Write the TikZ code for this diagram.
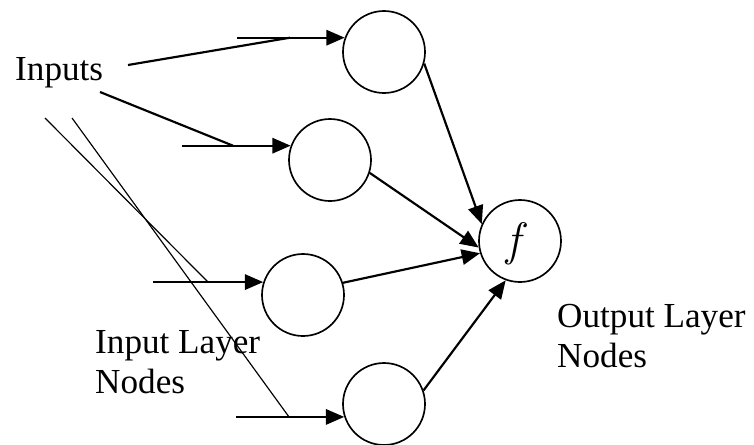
\documentclass[tikz,border=0pt]{standalone}
\usepackage{fontspec}
\setmainfont{Liberation Serif}
\newfontfamily\lmfont{Latin Modern Roman}
\usetikzlibrary{arrows.meta}

\begin{document}
\begin{tikzpicture}[x=0.03cm, y=-0.03cm,
    unit/.style={circle, draw, line width=0.05cm, minimum size=2.46cm, inner sep=0pt},
    feed/.style={line width=0.065cm, -{Triangle[length=0.55cm, width=0.46cm]}},
    wire/.style={line width=0.065cm},
    fine/.style={line width=0.035cm},
    every node/.style={font=\fontsize{30}{34}\selectfont}]
  \useasboundingbox (0,0) rectangle (754,444);

  % input layer and output node
  \node [unit] (h1)  at (384,52)  {};
  \node [unit] (h2)  at (330,160) {};
  \node [unit] (h3)  at (303,295) {};
  \node [unit] (h4)  at (384,404) {};
  \node [unit] (out) at (520,241) {};
  \node (fn) at (514,244) {\lmfont\fontsize{40}{40}\selectfont\itshape f};

  % labels (base = last line)
  \node [anchor=base west, inner sep=0pt] (inputs) at (15,80) {Inputs};
  \node [anchor=base west, inner sep=0pt, align=left] (inlayer)  at (95,393)  {Input Layer\\Nodes};
  \node [anchor=base west, inner sep=0pt, align=left] (outlayer) at (557,367) {Output Layer\\Nodes};

  \coordinate (a1) at (237,0);
  \coordinate (a2) at (182,0);
  \coordinate (a3) at (153,0);
  \coordinate (a4) at (236,0);

  \draw [feed] (a1 |- h1.160) -- (h1.160);
  \draw [feed] (a2 |- h2.160) -- (h2.160);
  \draw [feed] (a3 |- h3.162) -- (h3.162);
  \draw [feed] (a4 |- h4.198) -- (h4.198);

  \coordinate (i1) at (128,65);
  \coordinate (i2) at (100,92);
  \coordinate (j1) at (290,0);
  \coordinate (j2) at (233,0);

  \draw [wire] (i1) -- (j1 |- h1.160);
  \draw [wire] (i2) -- (j2 |- h2.160);

  \coordinate (t1) at (45,118);
  \coordinate (t2) at (72,118);
  \coordinate (k1) at (208,0);
  \coordinate (k2) at (289,0);

  \draw [fine] (t1) -- (k1 |- h3.162);
  \draw [fine] (t2) -- (k2 |- h4.198);

  \draw [feed] (h1.-16) -- (out.156);
  \draw [feed] (h2.-18) -- (out.189);
  \draw [feed] (h3.17)  -- (out.197);
  \draw [feed] (h4.19)  -- (out.250);
\end{tikzpicture}
\end{document}
